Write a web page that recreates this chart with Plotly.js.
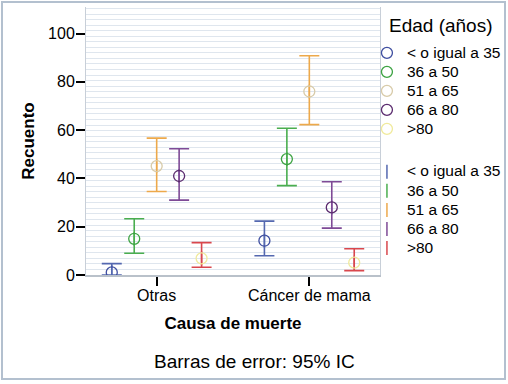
<!DOCTYPE html>
<html>
<head>
<meta charset="utf-8">
<script src="https://cdn.plot.ly/plotly-3.0.1.min.js"></script>
<style>
  html, body { margin: 0; padding: 0; background: #fff; }
  #wrap { position: relative; width: 508px; height: 384px; }
  #chart { position: absolute; left: 0; top: 0; width: 508px; height: 384px; }
  #frame { position: absolute; left: 1px; top: 1px; width: 501px; height: 375px;
           border: 2px solid #b3c0cf; pointer-events: none; }
</style>
</head>
<body>
<div id="wrap">
  <div id="chart"></div>
  <div id="frame"></div>
</div>
<script>
// Categories (x axis)
const categorias = ['Otras', 'Cáncer de mama'];
// Age groups (legend)
const gruposEdad = ['< o igual a 35', '36 a 50', '51 a 65', '66 a 80', '>80'];

// Counts (circle) per age group, for each category
const centroOtras  = [1.1, 15.0, 45.1, 41.0, 6.9];
const centroCancer = [14.2, 48.0, 76.0, 28.0, 5.1];
// 95% CI upper limits
const supOtras  = [4.7, 23.3, 56.7, 52.3, 13.4];
const supCancer = [22.3, 60.8, 90.8, 38.6, 10.9];
// 95% CI lower limits
const infOtras  = [0.0, 9.0, 34.6, 31.0, 3.2];
const infCancer = [8.0, 37.0, 62.3, 19.4, 1.8];

// Styling
const colorCirculo = ['#3f4fa0', '#3da343', '#d8cba9', '#5b2c6f', '#f0ea9c'];
const colorBarra   = ['#5468b0', '#4aae4f', '#eda94b', '#7e4a96', '#d9474d'];

const fuente = 'Liberation Sans, Arial, sans-serif';
const etiqueta = s => '<span style="font-size:15.5px">' + s + '</span>';

const trazasBarra = [];
const trazasCirculo = [];
gruposEdad.forEach((g, i) => {
  const centro = [centroOtras[i], centroCancer[i]];
  const sup = [supOtras[i], supCancer[i]];
  const inf = [infOtras[i], infCancer[i]];
  trazasBarra.push({
    type: 'scatter', mode: 'markers',
    x: categorias, y: centro,
    name: etiqueta(g), legend: 'legend2', offsetgroup: g,
    marker: { symbol: 'line-ns-open', size: 10, color: colorBarra[i],
              line: { color: colorBarra[i], width: 1.5 } },
    error_y: {
      type: 'data', symmetric: false,
      array: sup.map((v, k) => v - centro[k]),
      arrayminus: inf.map((v, k) => centro[k] - v),
      color: colorBarra[i], thickness: 1.6, width: 10
    },
    hoverinfo: 'skip'
  });
  trazasCirculo.push({
    type: 'scatter', mode: 'markers',
    x: categorias, y: centro,
    name: etiqueta(g), legend: 'legend', offsetgroup: g,
    marker: { symbol: 'circle-open', size: 11, color: colorCirculo[i],
              line: { color: colorCirculo[i], width: 1.3 } },
    hoverinfo: 'skip'
  });
});

const layout = {
  width: 508, height: 384,
  margin: { l: 86, r: 128, t: 7, b: 109, pad: 0, autoexpand: false },
  paper_bgcolor: '#ffffff', plot_bgcolor: '#ffffff',
  font: { family: fuente, size: 16, color: '#000' },
  scattermode: 'group', scattergap: 0.2645,
  showlegend: true,
  xaxis: {
    type: 'category', categoryarray: categorias,
    range: [-0.463, 1.463],
    ticks: 'outside', ticklen: 9, tickwidth: 2, tickcolor: '#000',
    ticklabelstandoff: -4,
    tickfont: { family: fuente, size: 16, color: '#000' },
    showline: true, linecolor: '#b9c1ca', linewidth: 2,
    showgrid: false, zeroline: false,
    title: { text: 'Causa de muerte', standoff: 14,
             font: { family: fuente, size: 17, color: '#000', weight: 'bold' } }
  },
  yaxis: {
    range: [0, 111], dtick: 20, tick0: 0,
    ticks: 'outside', ticklen: 9, tickwidth: 2, tickcolor: '#000',
    ticklabelstandoff: -2,
    tickfont: { family: fuente, size: 16, color: '#000' },
    showline: true, linecolor: '#c8cfd8', linewidth: 1, mirror: true,
    showgrid: false, zeroline: false,
    minor: { dtick: 2.3, tick0: 0, showgrid: true, gridcolor: '#dfe6ee', gridwidth: 1, ticks: '' },
    title: { text: 'Recuento', standoff: 9,
             font: { family: fuente, size: 17, color: '#000', weight: 'bold' } }
  },
  legend: {
    x: 0.9556, xanchor: 'left', y: 0.883, yanchor: 'top',
    bgcolor: 'rgba(0,0,0,0)', borderwidth: 0,
    font: { family: fuente, size: 12, color: '#000' },
    traceorder: 'normal', itemclick: false
  },
  legend2: {
    x: 0.9556, xanchor: 'left', y: 0.440, yanchor: 'top',
    bgcolor: 'rgba(0,0,0,0)', borderwidth: 0,
    font: { family: fuente, size: 12.4, color: '#000' },
    traceorder: 'normal', itemclick: false
  },
  annotations: [
    { text: 'Edad (años)', xref: 'paper', yref: 'paper', x: 1.025, y: 0.9328,
      xanchor: 'left', yanchor: 'middle', showarrow: false,
      font: { family: fuente, size: 19, color: '#000' } },
    { text: 'Barras de error: 95% IC', xref: 'paper', yref: 'paper', x: 0.573, y: -0.321,
      xanchor: 'center', yanchor: 'middle', showarrow: false,
      font: { family: fuente, size: 19, color: '#000' } }
  ]
};

Plotly.newPlot('chart', trazasBarra.concat(trazasCirculo), layout,
  { displayModeBar: false, staticPlot: true });
</script>
</body>
</html>
